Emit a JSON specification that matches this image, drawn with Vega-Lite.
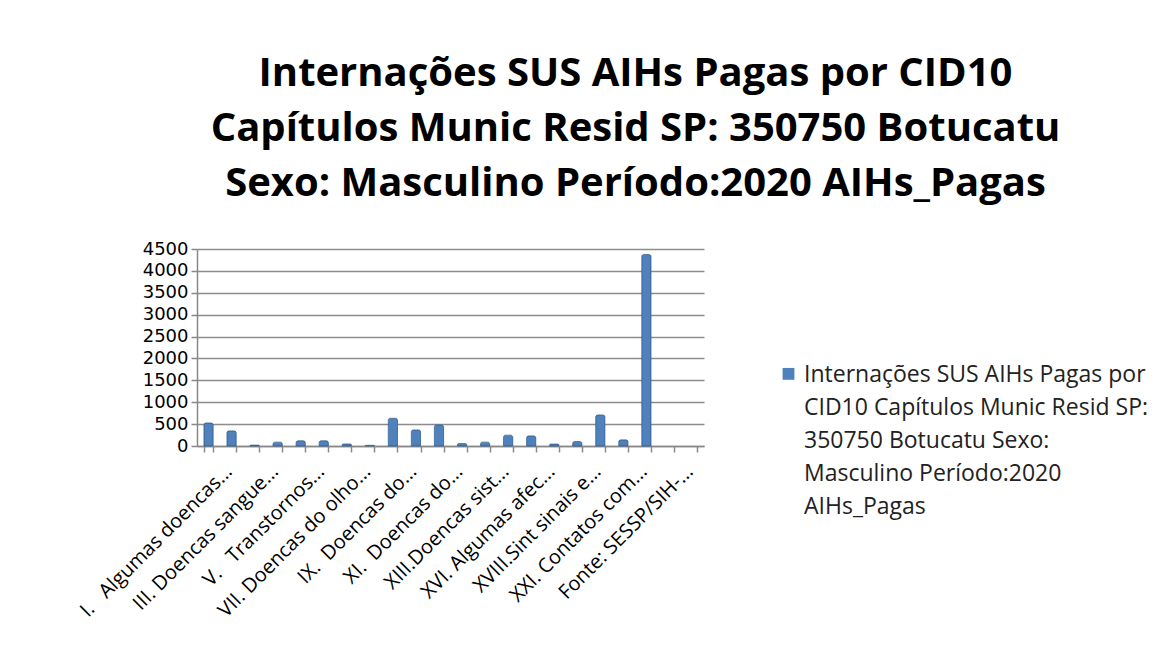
{
  "$schema": "https://vega.github.io/schema/vega-lite/v6.json",
  "autosize": {"type": "none"},
  "width": 507,
  "height": 197,
  "padding": {"left": 197, "top": 249, "right": 460, "bottom": 217},
  "background": "white",
  "title": {
    "text": ["Internações SUS AIHs Pagas por CID10", "Capítulos Munic Resid SP: 350750 Botucatu", "Sexo: Masculino Período:2020 AIHs_Pagas"],
    "font": "Open Sans",
    "fontSize": 40,
    "fontWeight": "bold",
    "color": "black",
    "lineHeight": 55,
    "anchor": "middle",
    "frame": "group",
    "dx": 185,
    "offset": 36
  },
  "data": {
    "values": [
      {"capitulo": "I.\u00a0\u00a0\u00a0Algumas doencas...", "aihs": 526, "serie": "Internações SUS AIHs Pagas por CID10 Capítulos Munic Resid SP: 350750 Botucatu Sexo: Masculino Período:2020 AIHs_Pagas"},
      {"capitulo": "II. Neoplasias (tumores)", "aihs": 345, "serie": "Internações SUS AIHs Pagas por CID10 Capítulos Munic Resid SP: 350750 Botucatu Sexo: Masculino Período:2020 AIHs_Pagas"},
      {"capitulo": "III. Doencas sangue...", "aihs": 20, "serie": "Internações SUS AIHs Pagas por CID10 Capítulos Munic Resid SP: 350750 Botucatu Sexo: Masculino Período:2020 AIHs_Pagas"},
      {"capitulo": "IV. Doencas endocrinas...", "aihs": 88, "serie": "Internações SUS AIHs Pagas por CID10 Capítulos Munic Resid SP: 350750 Botucatu Sexo: Masculino Período:2020 AIHs_Pagas"},
      {"capitulo": "V.\u00a0\u00a0\u00a0Transtornos...", "aihs": 120, "serie": "Internações SUS AIHs Pagas por CID10 Capítulos Munic Resid SP: 350750 Botucatu Sexo: Masculino Período:2020 AIHs_Pagas"},
      {"capitulo": "VI. Doencas do sistema...", "aihs": 120, "serie": "Internações SUS AIHs Pagas por CID10 Capítulos Munic Resid SP: 350750 Botucatu Sexo: Masculino Período:2020 AIHs_Pagas"},
      {"capitulo": "VII. Doencas do olho...", "aihs": 45, "serie": "Internações SUS AIHs Pagas por CID10 Capítulos Munic Resid SP: 350750 Botucatu Sexo: Masculino Período:2020 AIHs_Pagas"},
      {"capitulo": "VIII.Doencas do ouvido...", "aihs": 15, "serie": "Internações SUS AIHs Pagas por CID10 Capítulos Munic Resid SP: 350750 Botucatu Sexo: Masculino Período:2020 AIHs_Pagas"},
      {"capitulo": "IX.\u00a0\u00a0Doencas do...", "aihs": 633, "serie": "Internações SUS AIHs Pagas por CID10 Capítulos Munic Resid SP: 350750 Botucatu Sexo: Masculino Período:2020 AIHs_Pagas"},
      {"capitulo": "X. Doencas do aparelho respiratorio", "aihs": 367, "serie": "Internações SUS AIHs Pagas por CID10 Capítulos Munic Resid SP: 350750 Botucatu Sexo: Masculino Período:2020 AIHs_Pagas"},
      {"capitulo": "XI.\u00a0\u00a0Doencas do...", "aihs": 481, "serie": "Internações SUS AIHs Pagas por CID10 Capítulos Munic Resid SP: 350750 Botucatu Sexo: Masculino Período:2020 AIHs_Pagas"},
      {"capitulo": "XII. Doencas da pele...", "aihs": 56, "serie": "Internações SUS AIHs Pagas por CID10 Capítulos Munic Resid SP: 350750 Botucatu Sexo: Masculino Período:2020 AIHs_Pagas"},
      {"capitulo": "XIII.Doencas sist...", "aihs": 88, "serie": "Internações SUS AIHs Pagas por CID10 Capítulos Munic Resid SP: 350750 Botucatu Sexo: Masculino Período:2020 AIHs_Pagas"},
      {"capitulo": "XIV. Doencas do aparelho geniturinario", "aihs": 247, "serie": "Internações SUS AIHs Pagas por CID10 Capítulos Munic Resid SP: 350750 Botucatu Sexo: Masculino Período:2020 AIHs_Pagas"},
      {"capitulo": "XVI. Algumas afec...", "aihs": 231, "serie": "Internações SUS AIHs Pagas por CID10 Capítulos Munic Resid SP: 350750 Botucatu Sexo: Masculino Período:2020 AIHs_Pagas"},
      {"capitulo": "XVII.Malf cong...", "aihs": 43, "serie": "Internações SUS AIHs Pagas por CID10 Capítulos Munic Resid SP: 350750 Botucatu Sexo: Masculino Período:2020 AIHs_Pagas"},
      {"capitulo": "XVIII.Sint sinais e...", "aihs": 102, "serie": "Internações SUS AIHs Pagas por CID10 Capítulos Munic Resid SP: 350750 Botucatu Sexo: Masculino Período:2020 AIHs_Pagas"},
      {"capitulo": "XIX. Lesoes enven...", "aihs": 708, "serie": "Internações SUS AIHs Pagas por CID10 Capítulos Munic Resid SP: 350750 Botucatu Sexo: Masculino Período:2020 AIHs_Pagas"},
      {"capitulo": "XXI. Contatos com...", "aihs": 140, "serie": "Internações SUS AIHs Pagas por CID10 Capítulos Munic Resid SP: 350750 Botucatu Sexo: Masculino Período:2020 AIHs_Pagas"},
      {"capitulo": "Total", "aihs": 4374, "serie": "Internações SUS AIHs Pagas por CID10 Capítulos Munic Resid SP: 350750 Botucatu Sexo: Masculino Período:2020 AIHs_Pagas"}
    ]
  },
  "mark": {"type": "bar", "color": "#4F81BD", "stroke": "#3A6596", "strokeWidth": 0.8, "cornerRadiusTopLeft": 2, "cornerRadiusTopRight": 2},
  "encoding": {
    "x": {
      "field": "capitulo",
      "type": "nominal",
      "sort": null,
      "title": null,
      "scale": {
        "domain": ["I.\u00a0\u00a0\u00a0Algumas doencas...", "II. Neoplasias (tumores)", "III. Doencas sangue...", "IV. Doencas endocrinas...", "V.\u00a0\u00a0\u00a0Transtornos...", "VI. Doencas do sistema...", "VII. Doencas do olho...", "VIII.Doencas do ouvido...", "IX.\u00a0\u00a0Doencas do...", "X. Doencas do aparelho respiratorio", "XI.\u00a0\u00a0Doencas do...", "XII. Doencas da pele...", "XIII.Doencas sist...", "XIV. Doencas do aparelho geniturinario", "XVI. Algumas afec...", "XVII.Malf cong...", "XVIII.Sint sinais e...", "XIX. Lesoes enven...", "XXI. Contatos com...", "Total", "Fonte: SESSP/SIH-...", "Notas:"],
        "paddingInner": 0.6,
        "paddingOuter": 0.3
      },
      "axis": {
        "labelAngle": -45,
        "labelFont": "Open Sans",
        "labelFontSize": 20,
        "labelLineHeight": 20,
        "labelColor": "black",
        "labelLimit": 300,
        "labelOverlap": false,
        "labelPadding": 9,
        "labelOffset": 13,
        "labelExpr": "indexof(['II. Neoplasias (tumores)', 'IV. Doencas endocrinas...', 'VI. Doencas do sistema...', 'VIII.Doencas do ouvido...', 'X. Doencas do aparelho respiratorio', 'XII. Doencas da pele...', 'XIV. Doencas do aparelho geniturinario', 'XVII.Malf cong...', 'XIX. Lesoes enven...', 'Total', 'Notas:'], datum.value) >= 0 ? '' : datum.value",
        "domainColor": "#888888",
        "domainWidth": 1.5,
        "tickColor": "#888888",
        "tickWidth": 1.5,
        "tickSize": 6,
        "tickBand": "extent",
        "grid": false
      }
    },
    "y": {
      "field": "aihs",
      "type": "quantitative",
      "title": null,
      "scale": {"domain": [0, 4500], "nice": false},
      "axis": {
        "values": [0, 500, 1000, 1500, 2000, 2500, 3000, 3500, 4000, 4500],
        "format": "d",
        "labelFont": "DejaVu Sans",
        "labelFontSize": 18,
        "labelLineHeight": 18,
        "labelColor": "black",
        "labelPadding": 3,
        "domainColor": "#888888",
        "domainWidth": 1.5,
        "tickColor": "#888888",
        "tickWidth": 1.5,
        "tickSize": 6,
        "grid": true,
        "gridColor": "#8C8C8C",
        "gridWidth": 1.5
      }
    },
    "color": {
      "field": "serie",
      "type": "nominal",
      "scale": {"range": ["#4F81BD"]},
      "legend": {
        "title": null,
        "orient": "none",
        "legendX": 580,
        "legendY": 103,
        "symbolType": "M-1,0.75L1,0.75L1,2.75L-1,2.75Z",
        "symbolSize": 140,
        "symbolStrokeWidth": 0,
        "labelFont": "Open Sans",
        "labelFontSize": 23,
        "labelColor": "#222222",
        "labelLimit": 420,
        "labelBaseline": "top",
        "labelExpr": "['Internações SUS AIHs Pagas por', 'CID10 Capítulos Munic Resid SP:', '350750 Botucatu Sexo:', 'Masculino Período:2020', 'AIHs_Pagas']"
      }
    }
  },
  "config": {
    "view": {"stroke": null},
    "style": {"guide-label": {"lineHeight": 33}}
  }
}
